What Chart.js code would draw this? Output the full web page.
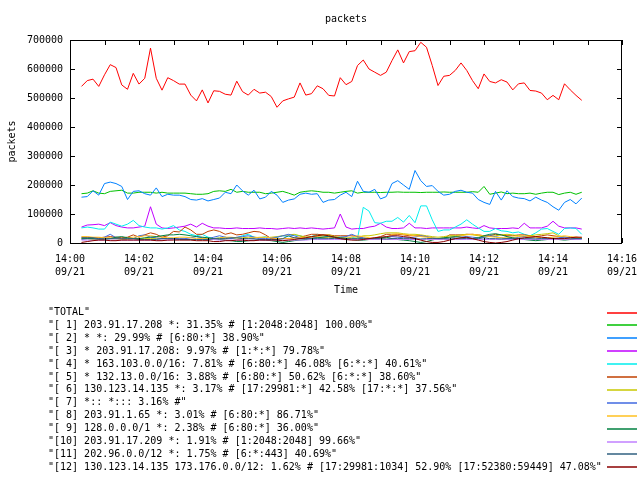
<!DOCTYPE html>
<html>
<head>
<meta charset="utf-8">
<script src="https://cdn.jsdelivr.net/npm/chart.js@4.4.0/dist/chart.umd.min.js"></script>
<style>
  html, body { margin: 0; padding: 0; background: #fff; }
  #wrap { width: 640px; height: 480px; }
</style>
</head>
<body>
<div id="wrap"><canvas id="packetsChart" width="640" height="480"></canvas></div>
<script>
// sample times, seconds after 14:00:00 on 09/21
const times = [20,30,40,50,60,70,80,90,100,110,120,130,140,150,160,170,180,190,200,210,220,230,240,250,260,270,280,290,300,310,320,330,340,350,360,370,380,390,400,410,420,430,440,450,460,470,480,490,500,510,520,530,540,550,560,570,580,590,600,610,620,630,640,650,660,670,680,690,700,710,720,730,740,750,760,770,780,790,800,810,820,830,840,850,860,870,880,890];

const xTickLabels = ["14:00", "14:02", "14:04", "14:06", "14:08", "14:10", "14:12", "14:14", "14:16"];
const dateLabel = "09/21";

const seriesNames = [
  '"TOTAL"',
  '"[ 1] 203.91.17.208 *: 31.35% # [1:2048:2048] 100.00%"',
  '"[ 2] * *: 29.99% # [6:80:*] 38.90%"',
  '"[ 3] * 203.91.17.208: 9.97% # [1:*:*] 79.78%"',
  '"[ 4] * 163.103.0.0/16: 7.81% # [6:80:*] 46.08% [6:*:*] 40.61%"',
  '"[ 5] * 132.13.0.0/16: 3.88% # [6:80:*] 50.62% [6:*:*] 38.60%"',
  '"[ 6] 130.123.14.135 *: 3.17% # [17:29981:*] 42.58% [17:*:*] 37.56%"',
  '"[ 7] *:: *::: 3.16% #"',
  '"[ 8] 203.91.1.65 *: 3.01% # [6:80:*] 86.71%"',
  '"[ 9] 128.0.0.0/1 *: 2.38% # [6:80:*] 36.00%"',
  '"[10] 203.91.17.209 *: 1.91% # [1:2048:2048] 99.66%"',
  '"[11] 202.96.0.0/12 *: 1.75% # [6:*:443] 40.69%"',
  '"[12] 130.123.14.135 173.176.0.0/12: 1.62% # [17:29981:1034] 52.90% [17:52380:59449] 47.08%"'
];

const seriesColors = ["#ff0000", "#00c000", "#0080ff", "#c000ff", "#00eeee", "#c04000", "#c8c800",
  "#4169e1", "#ffc020", "#008040", "#c080ff", "#306080", "#8b0000"];

const total = [540000,560000,565000,540000,580000,615000,605000,545000,530000,585000,548000,568000,672000,568000,527000,570000,560000,548000,548000,510000,490000,528000,483000,525000,523000,513000,510000,558000,522000,510000,530000,517000,520000,505000,468000,490000,497000,503000,552000,510000,515000,542000,
  532000,509000,507000,570000,546000,557000,612000,631000,600000,589000,578000,589000,629000,666000,621000,660000,663000,692000,675000,612000,543000,575000,578000,595000,621000,595000,560000,532000,583000,557000,552000,563000,555000,528000,549000,552000,526000,524000,517000,494000,509000,494000,549000,528000,509000,492000];

const s1 = [170000,172000,180000,172000,170000,178000,180000,182000,172000,172000,175000,175000,175000,172000,175000,172000,172000,172000,172000,170000,168000,168000,170000,178000,180000,178000,185000,175000,178000,175000,175000,175000,170000,172000,175000,178000,172000,165000,175000,178000,180000,178000,
  175000,175000,172000,175000,178000,180000,172000,175000,175000,175000,174000,175000,175000,176000,175000,175000,175000,174000,175000,175000,175000,176000,175000,175000,175000,175000,177000,175000,195000,168000,172000,176000,170000,172000,170000,170000,172000,168000,172000,175000,175000,167000,172000,175000,168000,175000];

const s2 = [158000,160000,180000,165000,205000,210000,205000,195000,150000,178000,180000,170000,165000,190000,160000,168000,165000,165000,160000,150000,148000,153000,145000,150000,155000,175000,170000,200000,180000,165000,182000,152000,158000,178000,165000,140000,148000,152000,168000,172000,168000,170000,
  140000,148000,150000,165000,175000,160000,213000,178000,175000,185000,152000,160000,205000,215000,200000,185000,250000,215000,195000,198000,178000,165000,168000,178000,182000,175000,172000,150000,140000,133000,178000,148000,180000,160000,155000,153000,145000,158000,148000,140000,125000,113000,140000,150000,135000,155000];

const s3 = [55000,62000,63000,65000,60000,70000,60000,55000,52000,52000,55000,58000,125000,65000,52000,50000,52000,55000,58000,65000,55000,68000,58000,52000,52000,50000,50000,52000,50000,50000,50000,52000,50000,50000,48000,50000,52000,50000,52000,50000,52000,50000,
  48000,50000,52000,100000,55000,48000,50000,50000,55000,58000,68000,55000,50000,50000,52000,68000,52000,52000,50000,52000,52000,52000,52000,52000,52000,55000,52000,50000,60000,52000,50000,50000,50000,52000,50000,68000,52000,52000,52000,58000,75000,58000,52000,52000,52000,48000];

const s4 = [52000,55000,52000,48000,48000,72000,65000,58000,65000,78000,60000,55000,52000,52000,48000,52000,60000,45000,40000,30000,25000,30000,20000,15000,18000,20000,15000,18000,25000,30000,20000,18000,22000,15000,20000,25000,22000,28000,25000,20000,22000,30000,
  25000,22000,20000,18000,15000,20000,15000,123000,110000,70000,68000,75000,75000,88000,72000,95000,70000,128000,128000,80000,40000,45000,45000,55000,65000,80000,65000,52000,40000,40000,50000,42000,40000,35000,38000,30000,25000,35000,48000,50000,40000,30000,50000,52000,50000,30000];

const s5 = [20000,20000,18000,18000,20000,22000,20000,18000,20000,28000,20000,28000,35000,30000,20000,25000,40000,38000,55000,45000,30000,30000,40000,45000,40000,30000,35000,28000,30000,35000,40000,38000,28000,15000,15000,15000,15000,18000,20000,25000,30000,30000,
  28000,28000,25000,25000,25000,25000,22000,15000,15000,18000,22000,30000,30000,30000,28000,25000,25000,25000,22000,15000,15000,15000,28000,28000,28000,30000,30000,28000,25000,25000,30000,28000,25000,25000,28000,28000,25000,22000,25000,28000,25000,22000,20000,18000,20000,18000];

const s6 = [15000,15000,12000,12000,15000,15000,15000,12000,12000,15000,15000,15000,15000,15000,15000,15000,15000,15000,12000,12000,12000,15000,15000,15000,15000,15000,15000,18000,18000,20000,20000,18000,18000,20000,22000,25000,28000,30000,25000,20000,22000,25000,
  25000,28000,22000,20000,18000,15000,18000,25000,25000,28000,32000,35000,35000,35000,32000,30000,30000,28000,25000,22000,20000,22000,25000,25000,28000,30000,28000,25000,22000,22000,25000,28000,30000,28000,25000,22000,25000,28000,30000,32000,35000,25000,20000,18000,15000,15000];

const s7 = [12000,15000,15000,15000,20000,30000,18000,15000,15000,15000,25000,28000,20000,18000,15000,15000,15000,15000,15000,18000,22000,18000,15000,20000,25000,20000,15000,20000,22000,25000,20000,15000,15000,18000,20000,25000,30000,25000,18000,15000,18000,20000,
  20000,22000,18000,20000,22000,30000,22000,18000,15000,15000,18000,20000,22000,20000,18000,18000,20000,25000,22000,18000,15000,15000,18000,20000,25000,22000,20000,18000,20000,25000,22000,18000,15000,15000,20000,22000,20000,18000,15000,15000,15000,18000,20000,18000,15000,15000];

const s8 = [22000,22000,20000,20000,18000,18000,15000,15000,18000,20000,22000,25000,25000,22000,20000,18000,18000,20000,20000,18000,15000,15000,15000,15000,18000,20000,20000,18000,15000,15000,18000,20000,20000,18000,15000,15000,15000,18000,18000,20000,20000,22000,
  20000,18000,18000,15000,15000,20000,25000,22000,18000,15000,15000,18000,30000,32000,30000,28000,25000,22000,20000,18000,15000,18000,20000,22000,25000,28000,30000,28000,25000,22000,20000,18000,18000,20000,22000,25000,22000,20000,18000,18000,20000,22000,25000,22000,20000,18000];

const s9 = [15000,15000,15000,12000,12000,15000,20000,22000,18000,15000,15000,18000,20000,22000,25000,28000,28000,30000,28000,25000,22000,20000,18000,15000,12000,10000,8000,5000,5000,8000,10000,12000,10000,8000,5000,2000,5000,8000,10000,12000,15000,18000,
  20000,22000,20000,18000,15000,12000,10000,10000,12000,15000,18000,20000,15000,12000,10000,8000,5000,2000,5000,10000,15000,18000,20000,22000,20000,18000,15000,18000,25000,30000,32000,28000,22000,18000,15000,12000,10000,8000,10000,12000,15000,12000,10000,12000,15000,15000];

const s10 = [10000,10000,10000,10000,10000,10000,10000,10000,10000,10000,10000,10000,10000,10000,10000,10000,12000,12000,12000,12000,12000,12000,12000,12000,10000,10000,10000,10000,10000,10000,10000,10000,10000,10000,10000,10000,10000,10000,10000,10000,12000,12000,
  12000,12000,12000,12000,12000,12000,12000,12000,12000,12000,12000,12000,12000,12000,12000,12000,12000,12000,12000,12000,12000,12000,12000,12000,12000,12000,12000,12000,12000,12000,12000,12000,12000,12000,12000,12000,12000,12000,12000,12000,12000,12000,12000,12000,12000,12000];

const s11 = [18000,18000,18000,15000,15000,15000,15000,15000,15000,15000,12000,12000,12000,12000,15000,15000,15000,12000,12000,12000,12000,12000,12000,15000,15000,15000,18000,18000,15000,15000,15000,12000,12000,12000,12000,15000,25000,18000,15000,15000,15000,15000,
  15000,15000,16000,15000,14000,15000,15000,16000,15000,15000,15000,14000,15000,16000,15000,15000,15000,14000,15000,16000,15000,15000,14000,15000,15000,16000,15000,15000,18000,15000,15000,14000,15000,15000,16000,15000,15000,14000,15000,15000,16000,15000,15000,14000,15000,15000];

const s12 = [2000,5000,8000,10000,10000,8000,8000,10000,10000,10000,10000,10000,10000,8000,8000,10000,10000,10000,10000,10000,8000,8000,8000,5000,5000,8000,8000,10000,10000,8000,8000,10000,10000,10000,10000,8000,10000,12000,15000,18000,22000,25000,
  28000,25000,20000,15000,12000,10000,10000,12000,15000,18000,20000,22000,25000,25000,22000,20000,15000,10000,5000,2000,2000,5000,10000,15000,18000,20000,15000,10000,5000,2000,0,2000,5000,10000,15000,18000,20000,22000,20000,18000,15000,15000,15000,18000,20000,20000];

const seriesValues = [total, s1, s2, s3, s4, s5, s6, s7, s8, s9, s10, s11, s12];

const X_MIN = 0, X_MAX = 960, X_STEP = 120, X_MINOR = 60;
const Y_MIN = 0, Y_MAX = 700000, Y_STEP = 100000;
const FONT = "'DejaVu Sans Mono', monospace";

// gnuplot style: full frame, inward ticks on every side, title and key drawn by hand
const gnuplotFrame = {
  id: "gnuplotFrame",
  afterDraw(chart) {
    const { ctx, chartArea: a } = chart;
    const x = chart.scales.x;
    const y = chart.scales.y;

    ctx.save();
    ctx.strokeStyle = "#000";
    ctx.lineWidth = 1;
    ctx.strokeRect(a.left + 0.5, a.top + 0.5, a.right - a.left - 1, a.bottom - a.top);

    ctx.beginPath();
    for (let t = X_MIN; t <= X_MAX; t += X_MINOR) {
      const px = Math.round(x.getPixelForValue(t)) + 0.5;
      ctx.moveTo(px, a.bottom); ctx.lineTo(px, a.bottom - 5);
      ctx.moveTo(px, a.top); ctx.lineTo(px, a.top + 5);
    }
    y.ticks.forEach(tk => {
      const py = Math.round(y.getPixelForValue(tk.value)) + 0.5;
      ctx.moveTo(a.left, py); ctx.lineTo(a.left + 5, py);
      ctx.moveTo(a.right, py); ctx.lineTo(a.right - 5, py);
    });
    ctx.stroke();

    ctx.fillStyle = "#000";
    ctx.font = "10px " + FONT;
    ctx.textBaseline = "middle";
    ctx.textAlign = "center";
    ctx.fillText("packets", (a.left + a.right) / 2, 19);

    // key
    ctx.textAlign = "left";
    chart.data.datasets.forEach((ds, i) => {
      const ry = 312.5 + i * 12.9;
      ctx.fillStyle = "#000";
      ctx.fillText(ds.label, 48, ry);
      ctx.strokeStyle = ds.borderColor;
      ctx.lineWidth = 1.5;
      ctx.beginPath();
      ctx.moveTo(607, Math.round(ry));
      ctx.lineTo(637, Math.round(ry));
      ctx.stroke();
    });
    ctx.restore();
  }
};

const datasets = seriesNames.map((name, i) => ({
  label: name,
  data: times.map((t, k) => ({ x: t, y: seriesValues[i][k] })),
  borderColor: seriesColors[i],
  backgroundColor: seriesColors[i],
  borderWidth: 1,
  pointRadius: 0,
  tension: 0,
  fill: false,
  order: seriesNames.length - i,
}));

new Chart(document.getElementById("packetsChart"), {
  type: "line",
  data: { datasets },
  options: {
    responsive: false,
    animation: false,
    devicePixelRatio: 1,
    layout: { padding: { left: 0, right: 18, top: 40, bottom: 180 } },
    plugins: { legend: { display: false }, tooltip: { enabled: false } },
    scales: {
      x: {
        type: "linear",
        min: X_MIN,
        max: X_MAX,
        afterFit(s) { s.height = 57; s.paddingLeft = 0; s.paddingRight = 0; },
        grid: { display: false, drawTicks: false },
        border: { display: false },
        ticks: {
          stepSize: X_STEP,
          padding: 10,
          maxRotation: 0,
          autoSkip: false,
          color: "#000",
          font: { family: FONT, size: 10, lineHeight: 1.3 },
          callback: v => [xTickLabels[Math.round(v / X_STEP)], dateLabel],
        },
        title: {
          display: true,
          text: "Time",
          color: "#000",
          font: { family: FONT, size: 10, lineHeight: 1.3 },
          padding: { top: 0, bottom: 3 },
        },
      },
      y: {
        min: Y_MIN,
        max: Y_MAX,
        afterFit(s) { s.width = 70; s.paddingTop = 0; s.paddingBottom = 0; },
        grid: { display: false, drawTicks: false },
        border: { display: false },
        ticks: {
          stepSize: Y_STEP,
          padding: 7,
          color: "#000",
          font: { family: FONT, size: 10 },
          callback: v => String(v),
        },
        title: {
          display: true,
          text: "packets",
          color: "#000",
          font: { family: FONT, size: 10, lineHeight: 1.3 },
          padding: { top: 6, bottom: 0 },
        },
      },
    },
  },
  plugins: [gnuplotFrame],
});
</script>
</body>
</html>
